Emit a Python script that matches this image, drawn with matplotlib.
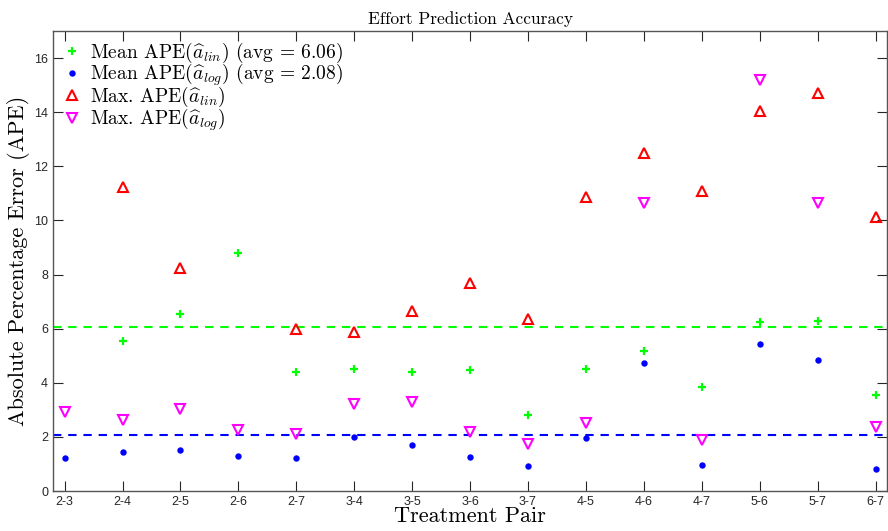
import numpy as np
import matplotlib
matplotlib.use('Agg')
import matplotlib.pyplot as plt

# treatment pairs on the x axis
pairs = ['2-3','2-4','2-5','2-6','2-7','3-4','3-5','3-6','3-7',
         '4-5','4-6','4-7','5-6','5-7','6-7']

# values (nan = not visible in the chart)
mean_lin = [19.84, 5.55, 6.55, 8.79, 4.38, 4.51, 4.39, 4.47, 2.82,
            4.52, 5.18, 3.85, 6.23, 6.29, 3.53]
mean_log = [1.21, 1.45, 1.53, 1.29, 1.22, 1.98, 1.71, 1.25, 0.94,
            1.95, 4.72, 0.95, 5.44, 4.83, 0.80]
max_lin  = [np.nan, 11.25, 8.26, np.nan, 5.98, 5.87, 6.67, 7.68, 6.35,
            10.86, 12.49, 11.09, 14.05, 14.71, 10.12]
max_log  = [2.91, 2.64, 3.02, 2.26, 2.10, 3.22, 3.30, 2.19, 1.74,
            2.53, 10.66, 1.87, 15.20, 10.66, 2.37]

avg_lin = np.mean(mean_lin)
avg_log = np.mean(mean_log)

plt.rcParams['mathtext.fontset'] = 'cm'
plt.rcParams['axes.unicode_minus'] = False
serif = 'cmr10'

fig = plt.figure(figsize=(8.88,5.31), dpi=100)
ax = fig.add_axes([0.0597, 0.0753, 0.9393, 0.8663])

x = np.arange(1, len(pairs)+1)

# average lines
ax.axhline(avg_lin, color='#00ff00', lw=1.5, dashes=(4,3.3), zorder=1)
ax.axhline(avg_log, color='#0000ff', lw=1.5, dashes=(4,3.3), zorder=1)

ax.plot(x, mean_lin, ls='none', marker='+', color='#00ff00', ms=6, mew=1.6,
        label=r'Mean APE$(\widehat{a}_{lin})$ (avg = %.2f)' % avg_lin, zorder=3)
ax.plot(x, mean_log, ls='none', marker='o', color='#0000ff', ms=4.6, mew=0,
        label=r'Mean APE$(\widehat{a}_{log})$ (avg = %.2f)' % avg_log, zorder=3)
ax.plot(x, max_lin, ls='none', marker='^', mfc='none', mec='#ff0000', ms=6.5, mew=1.5,
        label=r'Max. APE$(\widehat{a}_{lin})$', zorder=3)
ax.plot(x, max_log, ls='none', marker='v', mfc='none', mec='#ff00ff', ms=6.5, mew=1.5,
        label=r'Max. APE$(\widehat{a}_{log})$', zorder=3)

ax.set_xlim(0.8, 15.2)
ax.set_ylim(0, 17)
ax.set_xticks(x)
ax.set_xticklabels(pairs)
ax.set_yticks(np.arange(0, 17, 2))

ax.tick_params(direction='in', length=7, width=0.8, colors='#262626',
               top=True, right=True, labelsize=9)
for lab in ax.get_xticklabels() + ax.get_yticklabels():
    lab.set_fontfamily('Liberation Sans')
for s in ax.spines.values():
    s.set_color('#555555')
    s.set_linewidth(1.0)

ax.set_title('Effort Prediction Accuracy', fontfamily=serif, fontsize=12.5, pad=5)
ax.set_xlabel('Treatment Pair', fontfamily=serif, fontsize=16, labelpad=-1)
ax.set_ylabel('Absolute Percentage Error (APE)', fontfamily=serif, fontsize=16, labelpad=3)

leg = ax.legend(loc='upper left', frameon=False, prop={'family': serif, 'size': 14},
                handlelength=1.0, handletextpad=0.4, labelspacing=-0.16,
                borderaxespad=0.1, bbox_to_anchor=(0.0, 1.0))

fig.savefig('out.png', dpi=100)
